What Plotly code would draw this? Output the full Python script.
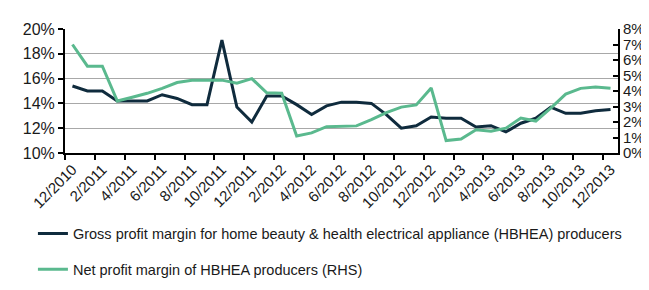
import plotly.graph_objects as go

months = ["12/2010","1/2011","2/2011","3/2011","4/2011","5/2011","6/2011","7/2011","8/2011","9/2011",
          "10/2011","11/2011","12/2011","1/2012","2/2012","3/2012","4/2012","5/2012","6/2012","7/2012",
          "8/2012","9/2012","10/2012","11/2012","12/2012","1/2013","2/2013","3/2013","4/2013","5/2013",
          "6/2013","7/2013","8/2013","9/2013","10/2013","11/2013","12/2013"]

gross_margin = [15.4, 15.0, 15.0, 14.2, 14.2, 14.2, 14.7, 14.4, 13.9, 13.9,
                19.1, 13.7, 12.5, 14.6, 14.6, 13.9, 13.1, 13.8, 14.1, 14.1,
                14.0, 13.1, 12.0, 12.2, 12.9, 12.8, 12.8, 12.1, 12.2, 11.7,
                12.4, 12.8, 13.7, 13.2, 13.2, 13.4, 13.5]

net_margin = [7.0, 5.6, 5.6, 3.35, 3.6, 3.85, 4.17, 4.55, 4.7, 4.7,
              4.7, 4.5, 4.8, 3.88, 3.85, 1.1, 1.3, 1.7, 1.74, 1.75,
              2.15, 2.6, 2.96, 3.1, 4.2, 0.8, 0.9, 1.5, 1.4, 1.6,
              2.25, 2.06, 2.9, 3.8, 4.17, 4.25, 4.17]

left_ticks = [10, 12, 14, 16, 18, 20]
right_ticks = [0, 1, 2, 3, 4, 5, 6, 7, 8]

gross_name = "Gross profit margin for home beauty & health electrical appliance (HBHEA) producers"
net_name = "Net profit margin of HBHEA producers (RHS)"

FONT = "Liberation Sans, Arial, sans-serif"

x = list(range(len(months)))
label_idx = list(range(0, len(months), 2))

fig = go.Figure()
fig.add_trace(go.Scatter(x=x, y=gross_margin, mode="lines", name=gross_name,
                         line=dict(color="#0f2b3d", width=3), legendgroup="a"))
fig.add_trace(go.Scatter(x=x, y=net_margin, mode="lines", name=net_name, yaxis="y2",
                         line=dict(color="#5ab98e", width=3), legendgroup="b"))

fig.update_layout(
    width=649, height=290,
    margin=dict(l=57, r=36, t=12, b=136),
    paper_bgcolor="white", plot_bgcolor="white",
    font=dict(family=FONT, color="#1a1a1a", size=15),
    showlegend=True,
    legend=dict(x=-0.058, y=-0.52, xanchor="left", yanchor="top",
                font=dict(size=14.5, family=FONT), traceorder="grouped",
                tracegroupgap=14, bgcolor="rgba(0,0,0,0)"),
    xaxis=dict(range=[-0.5, len(months) - 0.5], tickvals=label_idx,
               ticktext=[months[i] for i in label_idx], tickangle=-45,
               ticks="", showgrid=False, zeroline=False,
               showline=True, linecolor="black", linewidth=2,
               tickfont=dict(size=15),
               minor=dict(tickvals=[i - 0.5 for i in range(0, len(months) + 1, 2)],
                          ticks="outside", ticklen=5, tickcolor="black", tickwidth=2,
                          showgrid=False)),
    yaxis=dict(range=[10, 20], tickvals=left_ticks,
               ticktext=[f"{v}%" for v in left_ticks],
               ticks="outside", ticklen=5, tickwidth=2, tickcolor="black",
               showline=True, linecolor="black", linewidth=2,
               showgrid=True, gridcolor="#a8a8a8", gridwidth=1, zeroline=False,
               tickfont=dict(size=16)),
    yaxis2=dict(range=[0, 8], tickvals=right_ticks,
                ticktext=[f"{v}%" for v in right_ticks],
                overlaying="y", side="right",
                ticks="inside", ticklen=5, tickwidth=2, tickcolor="black",
                showline=True, linecolor="black", linewidth=2,
                showgrid=False, zeroline=False, tickfont=dict(size=15)),
)

fig.write_html("out.html")
